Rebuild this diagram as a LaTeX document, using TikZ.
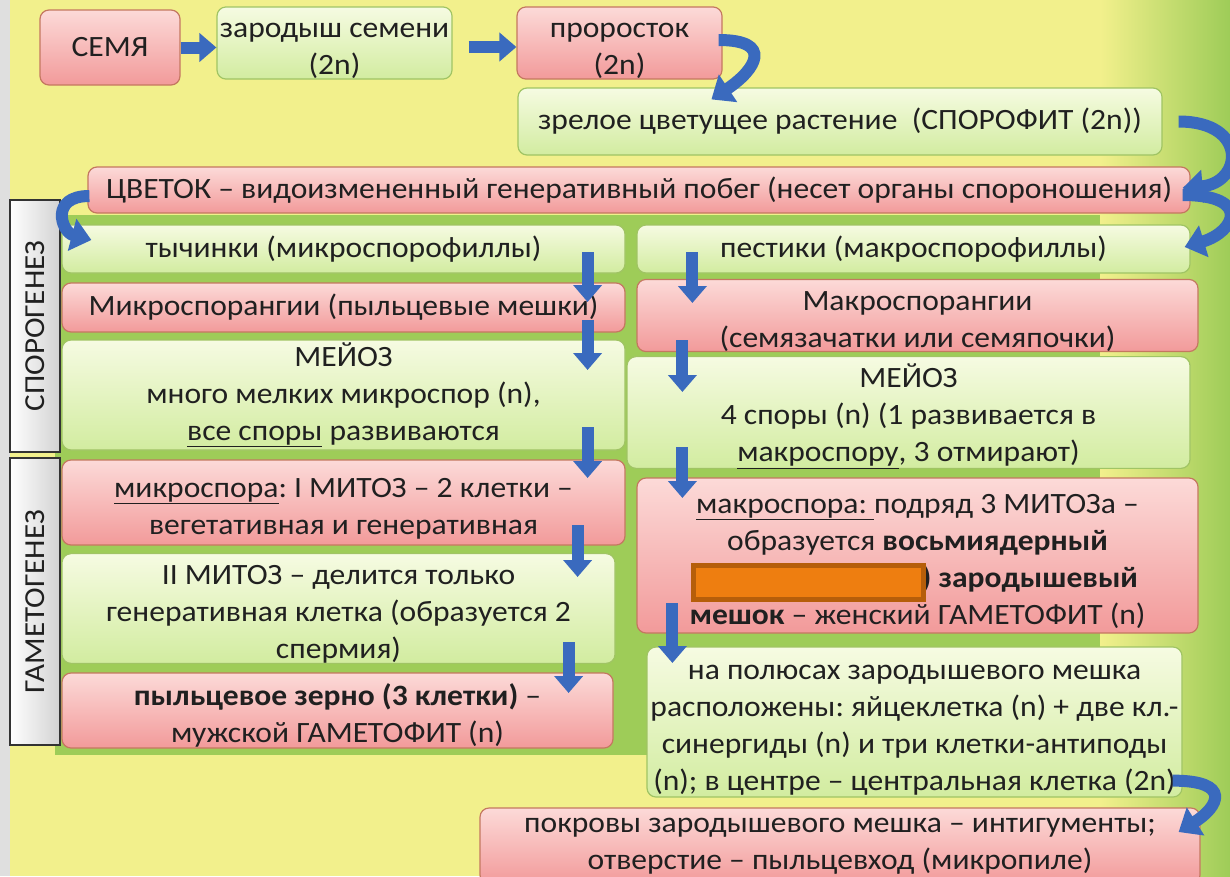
\documentclass[tikz,border=0pt]{standalone}
\usepackage{fontspec}
\setmainfont{Carlito}[FakeStretch=1.07]
\usepackage{tikz}
\usetikzlibrary{arrows.meta,calc,positioning,shapes}

\definecolor{bgyellow}{RGB}{242,240,140}
\definecolor{bggreen}{RGB}{158,204,88}
\definecolor{pinktop}{RGB}{252,218,216}
\definecolor{pinkbot}{RGB}{242,154,154}
\definecolor{pinkedge}{RGB}{196,120,96}
\definecolor{greentop}{RGB}{246,251,226}
\definecolor{greenbot}{RGB}{210,236,160}
\definecolor{greenedge}{RGB}{160,196,100}
\definecolor{arrowblue}{RGB}{58,106,190}
\definecolor{maskfill}{RGB}{238,126,16}
\definecolor{maskedge}{RGB}{182,94,10}
\definecolor{textcol}{RGB}{32,32,32}

\newcommand{\tp}{\rule{0pt}{31pt}}
\frenchspacing

\begin{document}
\begin{tikzpicture}[x=1pt,y=-1pt,
	pinkbox/.style={draw=pinkedge,line width=1.2pt,rounded corners=9pt,
		top color=pinktop,bottom color=pinkbot,inner sep=0pt,align=center,text=textcol},
	greenbox/.style={draw=greenedge,line width=1.2pt,rounded corners=9pt,
		top color=greentop,bottom color=greenbot,inner sep=0pt,align=center,text=textcol},
	sidebox/.style={draw=black!80,line width=1.5pt,left color=white,right color=gray!35,
		inner sep=0pt,rotate=90,text=textcol,font=\fontsize{29}{32}\selectfont},
	barrow/.style={draw=arrowblue,line width=12pt,-{Triangle[width=28pt,length=17pt]}},
	carrow/.style={draw=arrowblue,line width=12pt,-{Triangle[width=32pt,length=20pt]}},
	every node/.append style={font=\fontsize{29.5}{37}\selectfont}]

	\useasboundingbox (0,0) rectangle (1230,876);
	\fill[bgyellow] (0,0) rectangle (1230,876);
	\fill[bggreen] (55,215) rectangle (1205,755);
	\shade[left color=bgyellow,right color=bggreen] (1100,0) rectangle (1230,876);
	\fill[gray!25] (0,0) rectangle (10,876);

	\node[pinkbox,minimum width=140pt,minimum height=75pt] (semya) at (110,47.5) {СЕМЯ};
	\node[greenbox,minimum width=235pt,minimum height=70pt] (zarod) at (334.5,43) {\tp зародыш семени\\(2n)};
	\node[pinkbox,minimum width=205pt,minimum height=70pt] (prorost) at (619.5,43) {\tp проросток\\(2n)};
	\node[greenbox,minimum width=644pt,minimum height=67pt] (zrel) at (840,121.5) {зрелое цветущее растение\ \ (СПОРОФИТ (2n))};
	\node[pinkbox,minimum width=1102pt,minimum height=46pt] (cvetok) at (639,190) {ЦВЕТОК – видоизмененный генеративный побег (несет органы спороношения)};

	\node[sidebox,minimum width=252pt,minimum height=50pt] (sporog) at (35,326) {СПОРОГЕНЕЗ};
	\node[sidebox,minimum width=287pt,minimum height=50pt] (gametog) at (35,601.5) {ГАМЕТОГЕНЕЗ};

	\node[greenbox,minimum width=563pt,minimum height=48pt] (tych) at (343.5,249) {тычинки (микроспорофиллы)};
	\node[pinkbox,minimum width=563pt,minimum height=49pt] (mikrosp) at (343.5,307.5) {Микроспорангии (пыльцевые мешки)};
	\node[greenbox,minimum width=563pt,minimum height=110pt] (meiozL) at (343.5,395) {МЕЙОЗ\\много мелких микроспор (n),\\\underline{все споры} развиваются};
	\node[pinkbox,minimum width=563pt,minimum height=85pt] (mitoz1) at (343.5,502.5) {\tp\underline{микроспора}: I МИТОЗ – 2 клетки –\\вегетативная и генеративная};
	\node[greenbox,minimum width=553pt,minimum height=103pt] (mitoz2) at (338.5,608.5) {\tp II МИТОЗ – делится только\\генеративная клетка (образуется 2\\спермия)};
	\node[pinkbox,minimum width=551pt,minimum height=75pt] (pylc) at (337.5,710.5) {\tp\textbf{пыльцевое зерно (3 клетки)} –\\мужской ГАМЕТОФИТ (n)};

	\node[greenbox,minimum width=553pt,minimum height=48pt] (pest) at (913.5,249) {пестики (макроспорофиллы)};
	\node[pinkbox,minimum width=561pt,minimum height=65pt] (makrosp) at (917.5,315.5) {\tp Макроспорангии\\(семязачатки или семяпочки)};
	\node[greenbox,minimum width=563pt,minimum height=105pt] (meiozR) at (908.5,412.5) {\tp МЕЙОЗ\\4 споры (n) (1 развивается в\\\underline{макроспору}, 3 отмирают)};
	\node[pinkbox,minimum width=561pt,minimum height=155pt] (makrospora) at (917.5,555.5) {\tp\underline{макроспора:\ }подряд 3 МИТОЗа –\\образуется \textbf{восьмиядерный}\\\makebox[441pt][r]{\textbf{) зародышевый}}\\\textbf{мешок} – женский ГАМЕТОФИТ (n)};
	\node[greenbox,minimum width=535pt,minimum height=150pt] (polus) at (914.5,722) {\tp на полюсах зародышевого мешка\\расположены: яйцеклетка (n) + две кл.-\\синергиды (n) и три клетки-антиподы\\(n); в центре – центральная клетка (2n)};
	\node[pinkbox,minimum width=720pt,minimum height=76pt] (pokrov) at (840,846) {покровы зародышевого мешка – интигументы;\\отверстие – пыльцевход (микропиле)};

	\node[draw=maskedge,fill=maskfill,line width=5pt,minimum width=230pt,minimum height=34pt,inner sep=0pt] (mask) at (808.5,582.5) {};

	\draw[barrow] (semya.east) -- (semya.east -| zarod.west);
	\draw[barrow] ($(zarod.east)+(16,4)$) -- ($(prorost.west)+(0,4)$);
	\draw[carrow] ($(prorost.east)+(-4,-3)$) .. controls +(55,0) and +(45,-30) .. ($(zrel.north west)+(194,12)$);
	\draw[carrow] ($(zrel.east)+(16,0)$) .. controls +(70,0) and +(60,-5) .. ($(cvetok.east)+(-8,-2)$);
	\draw[carrow] ($(cvetok.east)+(-8,5)$) .. controls +(70,0) and +(50,-15) .. ($(pest.east)+(-6,-2)$);
	\draw[carrow] ($(cvetok.west)+(2,6)$) .. controls +(-40,0) and +(-30,-8) .. ($(tych.west)+(30,-9)$);
	\draw[carrow] ($(polus.south east)+(-10,-17)$) .. controls +(60,0) and +(40,-25) .. ($(pokrov.east)+(-22,-14)$);

	\draw[barrow] ($(tych.east)+(-38,3)$) -- ($(mikrosp.east)+(-38,-5.5)$);
	\draw[barrow] ($(mikrosp.east)+(-38,12)$) -- ($(meiozL.east)+(-38,-25)$);
	\draw[barrow] ($(meiozL.east)+(-38,32)$) -- ($(mitoz1.east)+(-38,-24.5)$);
	\draw[barrow] ($(mitoz1.east)+(-48,22.5)$) -- ($(mitoz2.east)+(-38,-31.5)$);
	\draw[barrow] ($(mitoz2.east)+(-47,33.5)$) -- ($(pylc.east)+(-45,-17.5)$);
	\draw[barrow] ($(pest.west)+(56,3)$) -- ($(makrosp.west)+(56,-12.5)$);
	\draw[barrow] ($(makrosp.west)+(46,24.5)$) -- ($(meiozR.west)+(56,-20.5)$);
	\draw[barrow] ($(meiozR.west)+(56,34.5)$) -- ($(makrospora.west)+(46,-57.5)$);
	\draw[barrow] ($(makrospora.west)+(36,47.5)$) -- ($(polus.west)+(26,-59)$);

\end{tikzpicture}
\end{document}
